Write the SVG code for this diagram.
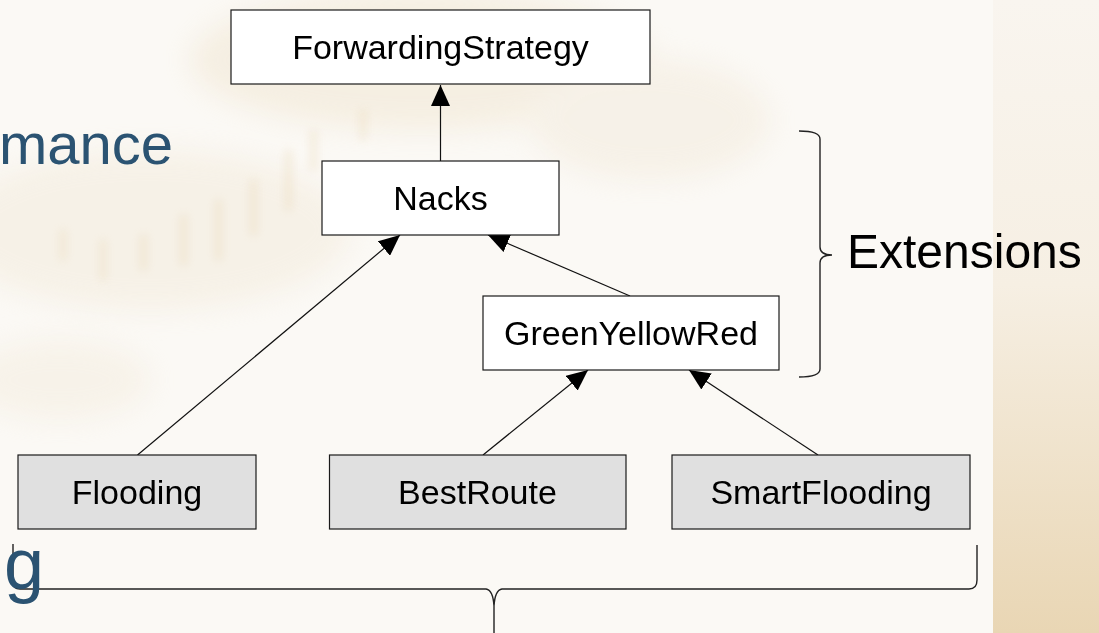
<svg xmlns="http://www.w3.org/2000/svg" width="1099" height="633" viewBox="0 0 1099 633">
  <defs>
    <style>
      .box { stroke: #1a1a1a; stroke-width: 1.2; }
      .plain { fill: #ffffff; }
      .leaf { fill: #e0e0e0; }
      .lbl { font-family: "Liberation Sans", Arial, sans-serif; font-size: 34px; fill: #000; text-anchor: middle; }
      .edge { stroke: #111; stroke-width: 1.2; fill: none; marker-end: url(#tri); }
      .brace { stroke: #222; stroke-width: 1.4; fill: none; }
      .title { font-family: "Liberation Sans", Arial, sans-serif; fill: #2b5372; }
    </style>
    <marker id="tri" viewBox="0 0 21 19" refX="21" refY="9.5" markerWidth="21" markerHeight="19" markerUnits="userSpaceOnUse" orient="auto">
      <path d="M0,0 L21,9.5 L0,19 z" fill="#000"/>
    </marker>
    <linearGradient id="band" x1="0" y1="0" x2="0" y2="1">
      <stop offset="0" stop-color="#f9f5ef"/>
      <stop offset="0.45" stop-color="#f6efe3"/>
      <stop offset="1" stop-color="#e9d6b4"/>
    </linearGradient>
    <filter id="blur" x="-50%" y="-50%" width="200%" height="200%">
      <feGaussianBlur stdDeviation="14"/>
    </filter>
    <filter id="blur2" x="-50%" y="-50%" width="200%" height="200%">
      <feGaussianBlur stdDeviation="4"/>
    </filter>
  </defs>

  <!-- background -->
  <rect x="0" y="0" width="1099" height="633" fill="#fbf9f5"/>
  <g opacity="0.4">
    <ellipse cx="420" cy="60" rx="230" ry="70" fill="#eee0c6" filter="url(#blur)"/>
    <ellipse cx="150" cy="230" rx="200" ry="80" fill="#f1e6d3" filter="url(#blur)"/>
    <ellipse cx="60" cy="380" rx="90" ry="40" fill="#f3e9d8" filter="url(#blur)"/>
    <ellipse cx="650" cy="120" rx="120" ry="60" fill="#f1e6d4" filter="url(#blur)"/>
  </g>
  <g opacity="0.25" fill="#e3c998" filter="url(#blur2)">
    <rect x="60" y="230" width="6" height="30"/>
    <rect x="100" y="240" width="6" height="40"/>
    <rect x="140" y="235" width="7" height="35"/>
    <rect x="180" y="215" width="7" height="50"/>
    <rect x="215" y="200" width="7" height="60"/>
    <rect x="250" y="180" width="7" height="55"/>
    <rect x="285" y="150" width="7" height="60"/>
    <rect x="310" y="130" width="7" height="40"/>
    <rect x="360" y="110" width="6" height="30"/>
  </g>
  <rect x="993" y="0" width="106" height="633" fill="url(#band)"/>

  <!-- slide title fragments -->
  <text class="title" x="173" y="164" font-size="58" text-anchor="end">mance</text>

  <!-- braces -->
  <path class="brace" d="M799,131 Q820,131 820,139 L820,247 Q820,255 832,255 Q820,255 820,263 L820,369 Q820,377 799,377"/>
  <path class="brace" d="M13,544 L13,583 Q13,589 20,589 L486,589 Q493,590 494,606 L494,633 M494,606 Q495,590 502,589 L969,589 Q977,589 977,580 L977,545"/>
  <text class="title" x="44" y="589" font-size="72" text-anchor="end">ng</text>
  <text x="847" y="268" font-family="'Liberation Sans', Arial, sans-serif" font-size="48" fill="#000">Extensions</text>

  <!-- connectors -->
  <g id="connectors">
    <line class="edge" x1="440.5" y1="161" x2="440.5" y2="85"/>
    <line class="edge" x1="137.5" y1="455" x2="400" y2="235"/>
    <line class="edge" x1="630" y1="296" x2="488" y2="235"/>
    <line class="edge" x1="483" y1="455" x2="588" y2="370"/>
    <line class="edge" x1="818" y1="455" x2="689" y2="370"/>
  </g>

  <!-- nodes -->
  <g id="node-forwardingstrategy">
    <rect class="box plain" x="231" y="10" width="419" height="74"/>
    <text class="lbl" x="440.5" y="59">ForwardingStrategy</text>
  </g>
  <g id="node-nacks">
    <rect class="box plain" x="322" y="161" width="237" height="74"/>
    <text class="lbl" x="440.5" y="210">Nacks</text>
  </g>
  <g id="node-greenyellowred">
    <rect class="box plain" x="483" y="296" width="296" height="74"/>
    <text class="lbl" x="631" y="345">GreenYellowRed</text>
  </g>
  <g id="node-flooding">
    <rect class="box leaf" x="18" y="455" width="238" height="74"/>
    <text class="lbl" x="137" y="504">Flooding</text>
  </g>
  <g id="node-bestroute">
    <rect class="box leaf" x="329.5" y="455" width="296.5" height="74"/>
    <text class="lbl" x="477.5" y="504">BestRoute</text>
  </g>
  <g id="node-smartflooding">
    <rect class="box leaf" x="672" y="455" width="298" height="74"/>
    <text class="lbl" x="821" y="504">SmartFlooding</text>
  </g>
</svg>
